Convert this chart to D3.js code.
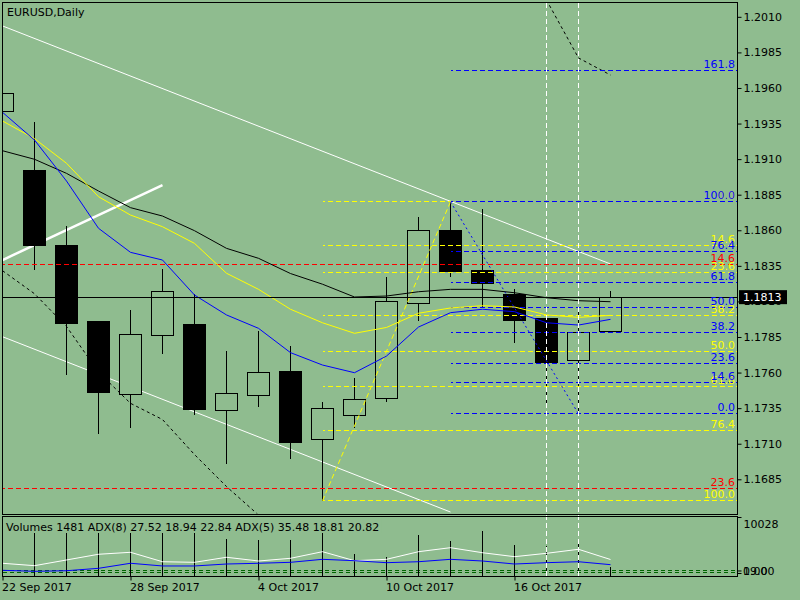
<!DOCTYPE html>
<html>
<head>
<meta charset="utf-8">
<title>EURUSD,Daily</title>
<script src="https://d3js.org/d3.v7.min.js"></script>
<style>
    html, body {
        margin: 0;
        padding: 0;
        background: #8fbc8f;
    }

    svg {
        display: block;
        font-family: "DejaVu Sans", sans-serif;
        font-size: 11px;
    }

    .axis path {
        display: none;
    }

    .axis line {
        stroke: #000;
    }

    .axis text {
        fill: #000;
        font-family: "DejaVu Sans", sans-serif;
        font-size: 11px;
    }
</style>
</head>
<body>
<svg id="chart" width="800" height="600"></svg>
<script>
    // Daily bars
    const days = ["2017-09-22", "2017-09-25", "2017-09-26", "2017-09-27", "2017-09-28",
                  "2017-09-29", "2017-10-02", "2017-10-03", "2017-10-04", "2017-10-05",
                  "2017-10-06", "2017-10-09", "2017-10-10", "2017-10-11", "2017-10-12",
                  "2017-10-13", "2017-10-16", "2017-10-17", "2017-10-18", "2017-10-19"];
    const open  = [1.1943, 1.1902, 1.1849, 1.1796, 1.1745, 1.1786, 1.1794, 1.1733, 1.1744, 1.1761,
                   1.1713, 1.1730, 1.1742, 1.1809, 1.1860, 1.1832, 1.1815, 1.1798, 1.1768, 1.1789];
    const high  = [1.1961, 1.1936, 1.1863, 1.1796, 1.1804, 1.1833, 1.1815, 1.1775, 1.1789, 1.1779,
                   1.1739, 1.1756, 1.1827, 1.1869, 1.1880, 1.1875, 1.1819, 1.1800, 1.1804, 1.1817];
    const low   = [1.1937, 1.1832, 1.1758, 1.1717, 1.1721, 1.1773, 1.1730, 1.1696, 1.1736, 1.1699,
                   1.1670, 1.1721, 1.1739, 1.1796, 1.1827, 1.1806, 1.1781, 1.1736, 1.1731, 1.1788];
    const close = [1.1956, 1.1849, 1.1794, 1.1746, 1.1787, 1.1817, 1.1734, 1.1745, 1.1760, 1.1711,
                   1.1735, 1.1741, 1.1810, 1.1860, 1.1831, 1.1823, 1.1797, 1.1767, 1.1788, 1.1813];

    // Moving averages
    const maFast = [1.19429, 1.19234, 1.18946, 1.18614, 1.18445, 1.18391, 1.18145, 1.18005, 1.17911, 1.17740,
                    1.17653, 1.17599, 1.17716, 1.17920, 1.18021, 1.18045, 1.18028, 1.17950, 1.17934, 1.17974];
    const maMid  = [1.19368, 1.19244, 1.19071, 1.18836, 1.18707, 1.18625, 1.18508, 1.18298, 1.18185, 1.18045,
                    1.17950, 1.17876, 1.17917, 1.18017, 1.18054, 1.18070, 1.18061, 1.18005, 1.17988, 1.18002];
    const maSlow = [1.19159, 1.19099, 1.19000, 1.18876, 1.18759, 1.18700, 1.18597, 1.18473, 1.18403, 1.18296,
                    1.18221, 1.18131, 1.18138, 1.18168, 1.18185, 1.18185, 1.18161, 1.18126, 1.18105, 1.18098];

    // dotted envelope bands (only the parts that fall inside the window)
    const bandLow = [1.18316, 1.18154, 1.17924, 1.17603, 1.17384, 1.17270, 1.17024, 1.16799, 1.16599, 1.16400];
    const bandHighStart = 17;
    const bandHigh = [1.20218, 1.19811, 1.19691];

    // trend lines: [bar, price, bar, price]
    const channelTop = [0, 1.20036, 19, 1.18363];
    const channelBottom = [0, 1.17852, 14, 1.16620];
    const thickLine = [0, 1.18391, 5, 1.18918];

    // fibonacci retracements
    const fibLevels = [0, 14.6, 23.6, 38.2, 50, 61.8, 76.4, 100, 161.8];
    const fibRed    = {from: -1, p0: 1.2091, p100: 1.0342, levels: [0, 14.6, 23.6, 38.2, 50, 61.8, 76.4, 100]};
    const fibYellow = {from: 10, to: 14, p0: 1.1880, p100: 1.1670, levels: [0, 14.6, 23.6, 38.2, 50, 61.8, 76.4, 100]};
    const fibBlue   = {from: 14, to: 18, p0: 1.1731, p100: 1.1880, levels: fibLevels};

    const markerBars = [17, 18];
    const lastPrice = 1.1813;
    const priceTicks = [1.2010, 1.1985, 1.1960, 1.1935, 1.1910, 1.1885, 1.1860, 1.1835,
                        1.1810, 1.1785, 1.1760, 1.1735, 1.1710, 1.1685];
    const dateTickBars = [0, 4, 8, 12, 16];

    // sub window: volumes + ADX
    const volumes = [7500, 9200, 9800, 10028, 9500, 8700, 8100, 6238, 6200, 6119,
                     8400, 3739, 3280, 6969, 5949, 7648, 5269, 5099, 5558, 1481];
    const adxMain = [21.2, 17.2, 26.7, 36.2, 39.5, 23.8, 22.8, 31.2, 25.0, 29.5,
                     40.5, 25.5, 27.8, 40.5, 47.2, 38.8, 32.2, 37.8, 44.5, 27.5];
    const adxPlus = [9.5, 7.8, 8.8, 12.8, 21.2, 16.7, 16.7, 20.0, 21.2, 22.8,
                     27.8, 25.5, 22.2, 23.8, 27.8, 25.0, 20.0, 22.2, 23.8, 18.9];
    const subLevels = [9.2, 5];
    const subLabel = "Volumes 1481 ADX(8) 27.52 18.94 22.84 ADX(5) 35.48 18.81 20.82";

    const bg = "#8fbc8f";
    const svg = d3.select("#chart");

    const pane = {left: 2.5, right: 737.5, top: 2.5, bottom: 514, subTop: 516.5, subBottom: 576.5};

    const x = d3.scaleLinear().domain([0, 23]).range([2.5, 738.5]);
    const y = d3.scaleLinear().domain([1.1685, 1.1885]).range([479.3, 194.7]);
    const yVol = d3.scaleLinear().domain([0, 10028]).range([576, 517]);
    const yAdx = d3.scaleLinear().domain([0, 100]).range([576, 516]);

    // snap a horizontal line to the pixel grid
    const snap = v => Math.round(v - 0.5) + 0.5;

    svg.append("rect").attr("width", 800).attr("height", 600).attr("fill", bg);

    const defs = svg.append("defs");
    defs.append("clipPath").attr("id", "clipMain").append("rect")
        .attr("x", 3).attr("y", 3).attr("width", 734).attr("height", 510.5);
    defs.append("clipPath").attr("id", "clipSub").append("rect")
        .attr("x", 3).attr("y", 517).attr("width", 734).attr("height", 59);

    const main = svg.append("g").attr("clip-path", "url(#clipMain)");
    const sub = svg.append("g").attr("clip-path", "url(#clipSub)");

    function segment(g, t, color, width, dash) {
        const ln = g.append("line")
            .attr("x1", x(t[0])).attr("y1", y(t[1]))
            .attr("x2", x(t[2])).attr("y2", y(t[3]))
            .attr("stroke", color)
            .attr("stroke-width", width);
        if (dash) ln.attr("stroke-dasharray", dash);
        return ln;
    }

    // trend lines
    segment(main, channelTop, "#fff", 1);
    segment(main, channelBottom, "#fff", 1);
    segment(main, thickLine, "#fff", 2.5);

    // dotted bands
    const bandLine = d3.line().x(d => x(d[0])).y(d => y(d[1]));
    main.append("path")
        .attr("d", bandLine(bandLow.map((v, i) => [i, v])))
        .attr("fill", "none").attr("stroke", "#000").attr("stroke-dasharray", "3,3");
    main.append("path")
        .attr("d", bandLine(bandHigh.map((v, i) => [bandHighStart + i, v])))
        .attr("fill", "none").attr("stroke", "#000").attr("stroke-dasharray", "3,3");

    // candles
    const bars = days.map((d, i) => ({i: i, o: open[i], h: high[i], l: low[i], c: close[i]}));
    const gc = main.append("g").attr("shape-rendering", "crispEdges");
    gc.selectAll("line")
        .data(bars)
        .join("line")
        .attr("x1", d => x(d.i)).attr("x2", d => x(d.i))
        .attr("y1", d => y(d.h)).attr("y2", d => y(d.l))
        .attr("stroke", "#000");
    gc.selectAll("rect")
        .data(bars)
        .join("rect")
        .attr("x", d => x(d.i) - 11)
        .attr("width", 22)
        .attr("y", d => snap(y(Math.max(d.o, d.c))))
        .attr("height", d => Math.max(1, Math.round(Math.abs(y(d.o) - y(d.c)))))
        .attr("fill", d => d.c >= d.o ? bg : "#000")
        .attr("stroke", "#000");

    // fibonacci
    const labels = svg.append("g");
    function drawFib(fib, color, diagDash) {
        const g = main.append("g").attr("shape-rendering", "crispEdges");
        const x0 = fib.from < 0 ? 3 : x(fib.from);
        fib.levels.forEach(r => {
            const p = fib.p0 + r / 100 * (fib.p100 - fib.p0);
            const py = snap(y(p));
            if (py < 3 || py > 513) return;
            g.append("line")
                .attr("x1", x0).attr("x2", 737)
                .attr("y1", py).attr("y2", py)
                .attr("stroke", color)
                .attr("stroke-dasharray", "5,3")
                .attr("stroke-dashoffset", x0 % 8);
            labels.append("text")
                .attr("x", 735).attr("y", py - 3)
                .attr("text-anchor", "end")
                .attr("fill", color)
                .text(r.toFixed(1));
        });
        if (fib.to !== undefined) {
            main.append("line")
                .attr("x1", x(fib.from)).attr("y1", y(fib.p100))
                .attr("x2", x(fib.to)).attr("y2", y(fib.p0))
                .attr("stroke", color)
                .attr("stroke-dasharray", diagDash);
        }
    }
    drawFib(fibYellow, "#ffff00", "5,3");
    drawFib(fibBlue, "#0000ff", "2,3");
    drawFib(fibRed, "#ff0000");

    // moving averages
    const maLine = d3.line().x((d, i) => x(i)).y(d => y(d));
    [[maSlow, "#000"], [maMid, "#ffff00"], [maFast, "#0000ff"]].forEach(([s, c]) => {
        main.append("path").attr("d", maLine(s))
            .attr("fill", "none").attr("stroke", c).attr("stroke-width", 1);
    });

    // current price line
    main.append("line")
        .attr("x1", 3).attr("x2", 737)
        .attr("y1", snap(y(lastPrice))).attr("y2", snap(y(lastPrice)))
        .attr("stroke", "#000").attr("shape-rendering", "crispEdges");

    // sub window
    sub.append("g").attr("shape-rendering", "crispEdges")
        .selectAll("line")
        .data(subLevels)
        .join("line")
        .attr("x1", 3).attr("x2", 737)
        .attr("y1", d => snap(yAdx(d))).attr("y2", d => snap(yAdx(d)))
        .attr("stroke", "#006400").attr("stroke-dasharray", "4,3");

    sub.append("g").attr("shape-rendering", "crispEdges")
        .selectAll("line")
        .data(volumes)
        .join("line")
        .attr("x1", (d, i) => x(i)).attr("x2", (d, i) => x(i))
        .attr("y1", yVol(0)).attr("y2", d => yVol(d))
        .attr("stroke", "#000");

    const adxLine = d3.line().x((d, i) => x(i)).y(d => yAdx(d));
    sub.append("path").attr("d", adxLine(adxMain))
        .attr("fill", "none").attr("stroke", "#fff");
    sub.append("path").attr("d", adxLine(adxPlus))
        .attr("fill", "none").attr("stroke", "#0000ff");

    const subText = sub.append("text")
        .attr("x", 6).attr("y", 531)
        .attr("fill", "#000")
        .text(subLabel);
    const tb = subText.node().getBBox();
    sub.insert("rect", "text")
        .attr("x", tb.x - 2).attr("y", 517).attr("width", tb.width + 4).attr("height", 16)
        .attr("fill", bg);

    // marker verticals
    svg.append("g")
        .selectAll("line")
        .data(markerBars)
        .join("line")
        .attr("x1", d => x(d)).attr("x2", d => x(d))
        .attr("y1", 3).attr("y2", 576)
        .attr("stroke", "#fff")
        .attr("stroke-dasharray", "5,3")
        .attr("shape-rendering", "crispEdges");

    // frames
    svg.append("rect")
        .attr("x", pane.left).attr("y", pane.top)
        .attr("width", pane.right - pane.left).attr("height", pane.bottom - pane.top)
        .attr("fill", "none").attr("stroke", "#000").attr("shape-rendering", "crispEdges");
    svg.append("rect")
        .attr("x", pane.left).attr("y", pane.subTop)
        .attr("width", pane.right - pane.left).attr("height", pane.subBottom - pane.subTop)
        .attr("fill", "none").attr("stroke", "#000").attr("shape-rendering", "crispEdges");

    // price axis
    svg.append("g")
        .attr("class", "axis")
        .attr("transform", `translate(${pane.right},0)`)
        .call(d3.axisRight(y).tickValues(priceTicks).tickFormat(d3.format(".4f"))
            .tickSize(4).tickPadding(2));

    // sub window axis
    const subAxis = svg.append("g").attr("class", "axis")
        .attr("transform", `translate(${pane.right},0)`);
    subAxis.call(d3.axisRight(yVol).tickValues([10028]).tickFormat(d3.format("d"))
        .tickSize(4).tickPadding(2));
    subAxis.selectAll("text").attr("dy", "0.95em");
    svg.append("g").attr("class", "axis")
        .attr("transform", `translate(${pane.right},0)`)
        .call(d3.axisRight(yAdx).tickValues(subLevels).tickFormat(d => "")
            .tickSize(4));
    svg.append("text").attr("x", 743).attr("y", 575).attr("fill", "#000").text("19.00");
    svg.append("text").attr("x", 743).attr("y", 575).attr("fill", "#000").text("0.00");

    // last price tag
    const tagY = y(lastPrice);
    svg.append("rect")
        .attr("x", 739).attr("y", tagY - 7).attr("width", 48).attr("height", 14)
        .attr("fill", "#000");
    svg.append("text")
        .attr("x", 743).attr("y", tagY)
        .attr("dy", "0.35em")
        .attr("fill", "#fff")
        .text(d3.format(".4f")(lastPrice));

    // date axis
    const parse = d3.timeParse("%Y-%m-%d");
    const fmt = d3.timeFormat("%-d %b %Y");
    const dateAxis = svg.append("g")
        .attr("class", "axis")
        .attr("transform", `translate(0,${pane.subBottom})`)
        .call(d3.axisBottom(x).tickValues(dateTickBars)
            .tickFormat(i => fmt(parse(days[i])))
            .tickSize(4).tickPadding(3));
    dateAxis.selectAll("text").attr("text-anchor", "start").attr("dx", -1);

    // title
    svg.append("text")
        .attr("x", 7).attr("y", 16)
        .attr("fill", "#000")
        .text("EURUSD,Daily");
</script>
</body>
</html>
